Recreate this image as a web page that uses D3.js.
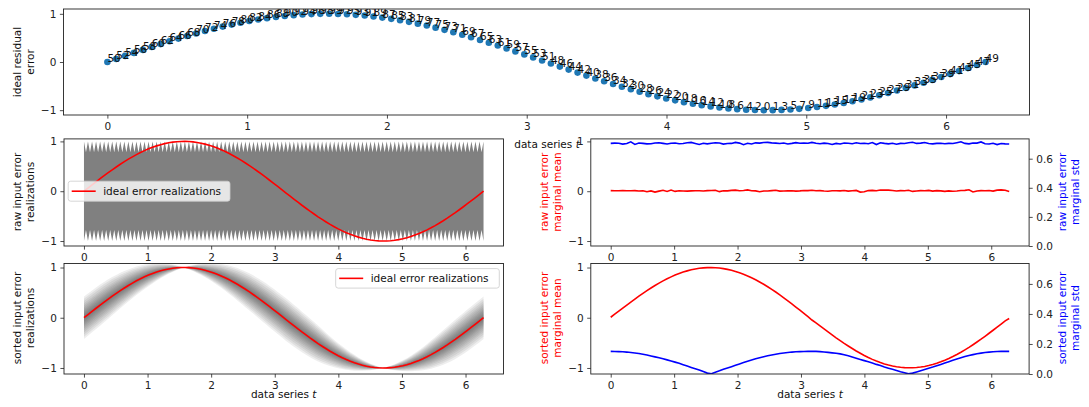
<!DOCTYPE html>
<html>
<head>
<meta charset="utf-8">
<script src="https://cdn.jsdelivr.net/npm/d3@7"></script>
<style>
  body { margin: 0; background: #fff; }
  svg { display: block; }
  text { font-family: "DejaVu Sans", sans-serif; }
</style>
</head>
<body>
<script>
// ---- data ---------------------------------------------------------------
const tValues = [
  0.000,0.063,0.127,0.190,0.254,0.317,0.381,0.444,0.508,0.571,
  0.635,0.698,0.762,0.825,0.889,0.952,1.015,1.079,1.142,1.206,
  1.269,1.333,1.396,1.460,1.523,1.587,1.650,1.714,1.777,1.841,
  1.904,1.967,2.031,2.094,2.158,2.221,2.285,2.348,2.412,2.475,
  2.539,2.602,2.666,2.729,2.793,2.856,2.919,2.983,3.046,3.110,
  3.173,3.237,3.300,3.364,3.427,3.491,3.554,3.618,3.681,3.745,
  3.808,3.871,3.935,3.998,4.062,4.125,4.189,4.252,4.316,4.379,
  4.443,4.506,4.570,4.633,4.696,4.760,4.823,4.887,4.950,5.014,
  5.077,5.141,5.204,5.268,5.331,5.395,5.458,5.522,5.585,5.649,
  5.712,5.775,5.839,5.902,5.966,6.029,6.093,6.156,6.220,6.283
];

const idealError = [
  0.000,0.063,0.127,0.189,0.251,0.312,0.372,0.430,0.486,0.541,
  0.593,0.643,0.690,0.735,0.776,0.815,0.850,0.881,0.910,0.934,
  0.955,0.972,0.985,0.994,0.999,1.000,0.997,0.990,0.979,0.964,
  0.945,0.922,0.896,0.866,0.833,0.796,0.756,0.713,0.667,0.618,
  0.567,0.514,0.458,0.401,0.342,0.282,0.220,0.158,0.095,0.032,
  -0.032,-0.095,-0.158,-0.220,-0.282,-0.342,-0.401,-0.458,-0.514,-0.567,
  -0.618,-0.667,-0.713,-0.756,-0.796,-0.833,-0.866,-0.896,-0.922,-0.945,
  -0.964,-0.979,-0.990,-0.997,-1.000,-0.999,-0.994,-0.985,-0.972,-0.955,
  -0.934,-0.910,-0.881,-0.850,-0.815,-0.776,-0.735,-0.690,-0.643,-0.593,
  -0.541,-0.486,-0.430,-0.372,-0.312,-0.251,-0.189,-0.127,-0.063,-0.000
];

// rank of each ideal residual value (annotated next to its point)
const rankLabels = [
  50,52,54,56,58,60,62,64,66,68,
  70,72,74,76,78,80,82,84,86,88,
  90,92,94,96,98,99,97,95,93,91,
  89,87,85,83,81,79,77,75,73,71,
  69,67,65,63,61,59,57,55,53,51,
  48,46,44,42,40,38,36,34,32,30,
  28,26,24,22,20,18,16,14,12,10,
  8,6,4,2,0,1,3,5,7,9,
  11,13,15,17,19,21,23,25,27,29,
  31,33,35,37,39,41,43,45,47,49
];

const rawMean = [
  0.012,0.010,0.008,0.011,0.009,0.010,0.012,0.004,0.009,-0.012,
  0.006,-0.018,0.002,0.019,-0.006,0.024,-0.004,0.008,0.003,0.001,
  0.006,0.010,0.008,0.004,0.012,0.013,0.018,-0.009,0.010,0.006,
  0.016,0.022,0.008,0.014,0.026,0.010,0.006,-0.012,0.003,0.005,
  0.012,0.018,0.001,0.004,0.006,0.008,0.002,0.006,0.014,0.011,
  0.020,0.009,0.011,0.004,0.000,0.008,0.010,0.007,0.013,0.002,
  0.010,0.016,-0.018,-0.012,0.012,0.016,0.008,0.024,0.022,0.021,
  0.014,0.004,0.012,0.008,0.018,-0.004,0.005,0.012,0.009,0.016,
  0.002,0.012,0.007,-0.004,0.006,0.000,0.004,0.013,0.016,0.028,
  -0.016,0.004,0.011,0.008,0.015,0.002,0.021,0.027,0.018,-0.006
];

const rawStd = [
  0.705,0.707,0.706,0.700,0.704,0.716,0.698,0.708,0.705,0.702,
  0.703,0.708,0.709,0.705,0.701,0.706,0.708,0.703,0.704,0.709,
  0.712,0.705,0.698,0.706,0.702,0.706,0.710,0.708,0.700,0.704,
  0.705,0.712,0.707,0.696,0.706,0.701,0.709,0.707,0.711,0.712,
  0.709,0.707,0.704,0.708,0.701,0.705,0.710,0.706,0.708,0.706,
  0.712,0.706,0.703,0.707,0.704,0.698,0.705,0.701,0.708,0.706,
  0.703,0.709,0.704,0.706,0.703,0.711,0.697,0.709,0.705,0.702,
  0.706,0.699,0.705,0.704,0.709,0.713,0.705,0.707,0.711,0.704,
  0.702,0.705,0.706,0.703,0.705,0.704,0.710,0.716,0.705,0.702,
  0.708,0.707,0.715,0.703,0.701,0.706,0.697,0.704,0.702,0.701
];

const sortedMean = [
  0.010,0.070,0.131,0.192,0.253,0.313,0.372,0.430,0.486,0.540,
  0.592,0.642,0.689,0.734,0.775,0.814,0.849,0.880,0.909,0.933,
  0.954,0.971,0.984,0.993,0.998,0.999,0.996,0.989,0.978,0.963,
  0.944,0.921,0.895,0.865,0.832,0.795,0.755,0.712,0.666,0.617,
  0.566,0.512,0.455,0.397,0.337,0.276,0.213,0.150,0.086,0.020,
  -0.045,-0.104,-0.163,-0.222,-0.282,-0.341,-0.399,-0.455,-0.510,-0.562,
  -0.613,-0.662,-0.708,-0.751,-0.792,-0.829,-0.863,-0.893,-0.919,-0.942,
  -0.961,-0.976,-0.987,-0.994,-0.997,-0.996,-0.991,-0.982,-0.969,-0.952,
  -0.931,-0.906,-0.878,-0.846,-0.811,-0.772,-0.731,-0.686,-0.639,-0.589,
  -0.537,-0.483,-0.427,-0.369,-0.309,-0.249,-0.187,-0.125,-0.062,-0.015
];

const sortedStd = [
  0.151,0.150,0.149,0.148,0.146,0.143,0.140,0.136,0.131,0.126,
  0.120,0.114,0.108,0.101,0.094,0.087,0.079,0.071,0.062,0.053,
  0.044,0.035,0.026,0.016,0.006,0.002,0.012,0.021,0.031,0.040,
  0.049,0.058,0.067,0.076,0.085,0.093,0.101,0.108,0.115,0.121,
  0.127,0.132,0.136,0.140,0.143,0.146,0.148,0.149,0.150,0.151,
  0.152,0.151,0.149,0.147,0.144,0.141,0.138,0.134,0.128,0.121,
  0.113,0.105,0.097,0.089,0.081,0.073,0.064,0.056,0.047,0.039,
  0.031,0.023,0.015,0.008,0.001,0.006,0.014,0.022,0.030,0.038,
  0.046,0.055,0.064,0.073,0.082,0.091,0.100,0.108,0.116,0.123,
  0.129,0.135,0.139,0.143,0.146,0.148,0.150,0.151,0.151,0.151
];

// envelope of the raw realizations: extremes reached at every sample, dip between samples
const rawBandPeak = [-1.0, 1.0];
const rawBandNotch = [-0.78, 0.78];
// spread multiples (in sorted std units) used to shade the sorted realizations
const sortedSpread = [2.8, 2.5, 2.2, 1.9, 1.65, 1.4, 1.15, 0.95, 0.75, 0.55, 0.35, 0.18];

const xTicks = [0, 1, 2, 3, 4, 5, 6];
const yTicks = [-1, 0, 1];
const stdTicks = [0.0, 0.2, 0.4, 0.6];
const legendLabel = "ideal error realizations";

// ---- layout --------------------------------------------------------------
const W = 1089, H = 407, FS = 10.5;
const svg = d3.select("body").append("svg").attr("width", W).attr("height", H);
const xDomain = [-0.314, 6.597];
let clipCount = 0;

function makePanel(box, yDomain, yRightDomain) {
  const g = svg.append("g");
  const x = d3.scaleLinear().domain(xDomain).range([box.l, box.r]);
  const y = d3.scaleLinear().domain(yDomain).range([box.b, box.t]);
  const y2 = yRightDomain ? d3.scaleLinear().domain(yRightDomain).range([box.b, box.t]) : null;
  const id = "clip" + (clipCount++);
  svg.append("clipPath").attr("id", id).append("rect")
    .attr("x", box.l).attr("y", box.t).attr("width", box.r - box.l).attr("height", box.b - box.t);
  const plot = g.append("g").attr("clip-path", `url(#${id})`);
  return { g, plot, x, y, y2, box };
}

function styleAxis(sel) {
  sel.select(".domain").remove();
  sel.selectAll(".tick line").attr("stroke", "#222").attr("stroke-width", 0.8);
  sel.selectAll(".tick text").attr("fill", "#222").style("font-size", FS + "px")
    .style("font-family", '"DejaVu Sans", sans-serif');
}

function drawAxes(p) {
  const { g, x, y, y2, box } = p;
  g.append("g").attr("transform", `translate(0,${box.b})`)
    .call(d3.axisBottom(x).tickValues(xTicks).tickFormat(d3.format("d")).tickSize(3.6).tickPadding(3.6))
    .call(styleAxis);
  g.append("g").attr("transform", `translate(${box.l},0)`)
    .call(d3.axisLeft(y).tickValues(yTicks).tickFormat(d3.format("d")).tickSize(3.6).tickPadding(3.6))
    .call(styleAxis);
  if (y2) {
    g.append("g").attr("transform", `translate(${box.r},0)`)
      .call(d3.axisRight(y2).tickValues(stdTicks).tickFormat(d3.format(".1f")).tickSize(3.6).tickPadding(3.6))
      .call(styleAxis);
  }
  g.append("rect").attr("x", box.l).attr("y", box.t)
    .attr("width", box.r - box.l).attr("height", box.b - box.t)
    .attr("fill", "none").attr("stroke", "#222").attr("stroke-width", 0.9);
}

function yLabel(lines, xs, yc, color) {
  lines.forEach((txt, i) => {
    svg.append("text")
      .attr("transform", `translate(${xs[i]},${yc}) rotate(-90)`)
      .attr("text-anchor", "middle").attr("dominant-baseline", "central")
      .style("font-size", FS + "px").attr("fill", color).text(txt);
  });
}

function xLabel(cx, baseline) {
  const t = svg.append("text").attr("x", cx).attr("y", baseline)
    .attr("text-anchor", "middle").style("font-size", FS + "px").attr("fill", "#111");
  t.append("tspan").text("data series ");
  t.append("tspan").style("font-style", "italic").text("t");
}

function legend(p, bx, by, bw, bh) {
  const g = p.g.append("g");
  g.append("rect").attr("x", bx).attr("y", by).attr("width", bw).attr("height", bh)
    .attr("rx", 2.5).attr("fill", "#fff").attr("fill-opacity", 0.8)
    .attr("stroke", "#ccc").attr("stroke-width", 0.8);
  const cy = by + bh / 2;
  g.append("line").attr("x1", bx + 3.5).attr("x2", bx + 27.5).attr("y1", cy).attr("y2", cy)
    .attr("stroke", "red").attr("stroke-width", 1.6);
  g.append("text").attr("x", bx + 35).attr("y", cy + 0.36 * FS)
    .style("font-size", FS + "px").attr("fill", "#111").text(legendLabel);
}

const idx = d3.range(tValues.length);

// ---- top: ideal residual error ----------------------------------------------
const topPanel = makePanel({ l: 63.5, r: 1029.5, t: 9, b: 115 }, [-1.1, 1.1]);
topPanel.plot.selectAll("circle").data(idx).join("circle")
  .attr("cx", i => topPanel.x(tValues[i])).attr("cy", i => topPanel.y(idealError[i]))
  .attr("r", 3.3).attr("fill", "#1f77b4");
topPanel.plot.selectAll("text.rank").data(idx).join("text").attr("class", "rank")
  .attr("x", i => topPanel.x(tValues[i])).attr("y", i => topPanel.y(idealError[i]))
  .style("font-size", FS + "px").attr("fill", "#111").text(i => rankLabels[i]);
drawAxes(topPanel);
yLabel(["ideal residual", "error"], [17, 29.5], 62, "#111");
xLabel(547, 148);

// ---- middle left: raw realizations --------------------------------------------
const midL = makePanel({ l: 64, r: 503.5, t: 138.9, b: 246 }, [-1.10, 1.05]);
{
  const upper = [], lower = [];
  idx.forEach(i => {
    upper.push([midL.x(tValues[i]), midL.y(rawBandPeak[1])]);
    lower.push([midL.x(tValues[i]), midL.y(rawBandPeak[0])]);
    if (i < tValues.length - 1) {
      const xm = midL.x((tValues[i] + tValues[i + 1]) / 2);
      upper.push([xm, midL.y(rawBandNotch[1])]);
      lower.push([xm, midL.y(rawBandNotch[0])]);
    }
  });
  const poly = upper.concat(lower.reverse());
  midL.plot.append("path").attr("d", "M" + poly.map(p => p.join(",")).join("L") + "Z")
    .attr("fill", "#808080");
  midL.plot.append("path").datum(idx)
    .attr("d", d3.line().x(i => midL.x(tValues[i])).y(i => midL.y(idealError[i])))
    .attr("fill", "none").attr("stroke", "red").attr("stroke-width", 1.6);
}
drawAxes(midL);
legend(midL, 68.2, 181.2, 161.8, 20);
yLabel(["raw input error", "realizations"], [17, 29.5], 192, "#111");

// ---- middle right: raw marginal mean / std -------------------------------------
const midR = makePanel({ l: 590.8, r: 1029.1, t: 138.9, b: 246 }, [-1.10, 1.05], [0, 0.736]);
midR.plot.append("path").datum(idx)
  .attr("d", d3.line().x(i => midR.x(tValues[i])).y(i => midR.y(rawMean[i])))
  .attr("fill", "none").attr("stroke", "red").attr("stroke-width", 1.6);
midR.plot.append("path").datum(idx)
  .attr("d", d3.line().x(i => midR.x(tValues[i])).y(i => midR.y2(rawStd[i])))
  .attr("fill", "none").attr("stroke", "blue").attr("stroke-width", 1.6);
drawAxes(midR);
yLabel(["raw input error", "marginal mean"], [544, 556.5], 192, "red");
yLabel(["raw input error", "marginal std"], [1062, 1075], 192, "blue");

// ---- bottom left: sorted realizations ------------------------------------------
const botL = makePanel({ l: 64, r: 503.5, t: 263.5, b: 374 }, [-1.12, 1.08]);
sortedSpread.forEach(k => {
  botL.plot.append("path").datum(idx)
    .attr("d", d3.area().x(i => botL.x(tValues[i]))
      .y0(i => botL.y(idealError[i] - k * sortedStd[i]))
      .y1(i => botL.y(idealError[i] + k * sortedStd[i])))
    .attr("fill", "#404040").attr("fill-opacity", 0.09);
});
botL.plot.append("path").datum(idx)
  .attr("d", d3.line().x(i => botL.x(tValues[i])).y(i => botL.y(idealError[i])))
  .attr("fill", "none").attr("stroke", "red").attr("stroke-width", 1.6);
drawAxes(botL);
legend(botL, 335.7, 268.6, 163.6, 19.5);
yLabel(["sorted input error", "realizations"], [17, 29.5], 318, "#111");
xLabel(283.7, 398);

// ---- bottom right: sorted marginal mean / std ------------------------------------
const botR = makePanel({ l: 590.8, r: 1029.1, t: 263.5, b: 374 }, [-1.12, 1.08], [0, 0.736]);
botR.plot.append("path").datum(idx)
  .attr("d", d3.line().x(i => botR.x(tValues[i])).y(i => botR.y(sortedMean[i])))
  .attr("fill", "none").attr("stroke", "red").attr("stroke-width", 1.6);
botR.plot.append("path").datum(idx)
  .attr("d", d3.line().x(i => botR.x(tValues[i])).y(i => botR.y2(sortedStd[i])))
  .attr("fill", "none").attr("stroke", "blue").attr("stroke-width", 1.6);
drawAxes(botR);
yLabel(["sorted input error", "marginal mean"], [544, 556.5], 318, "red");
yLabel(["sorted input error", "marginal std"], [1062, 1075], 318, "blue");
xLabel(810, 398);
</script>
</body>
</html>
